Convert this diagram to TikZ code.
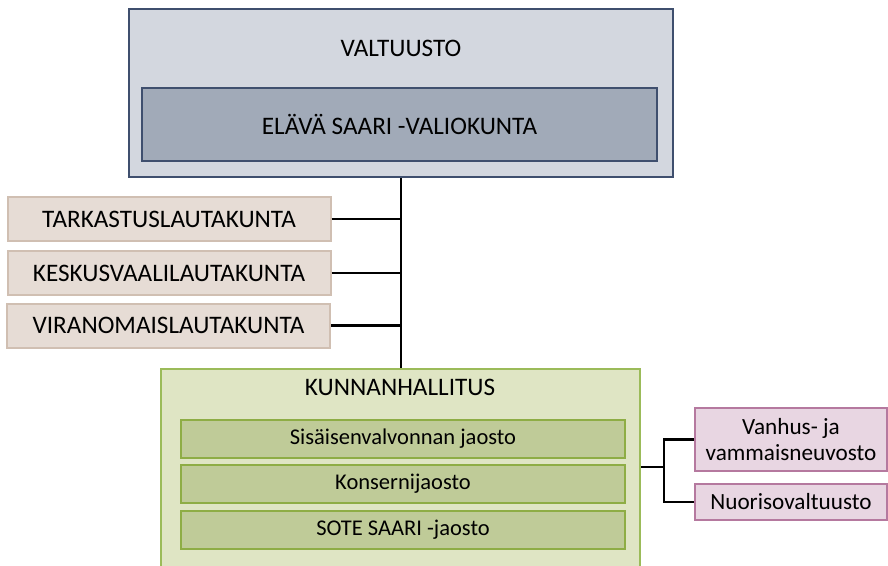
\documentclass[tikz,border=0pt]{standalone}
\usepackage{fontspec}
\setmainfont{Carlito}
\usetikzlibrary{positioning}

\definecolor{valtfill}{HTML}{D3D7DF}
\definecolor{valtdraw}{HTML}{3F4F6E}
\definecolor{valiofill}{HTML}{A1AAB8}
\definecolor{lautafill}{HTML}{E6DCD5}
\definecolor{lautadraw}{HTML}{D0BFB2}
\definecolor{khfill}{HTML}{DFE5C4}
\definecolor{khdraw}{HTML}{9BBB59}
\definecolor{jaostofill}{HTML}{BFCB98}
\definecolor{jaostodraw}{HTML}{8EAD45}
\definecolor{neuvfill}{HTML}{E8D6E2}
\definecolor{neuvdraw}{HTML}{B5799F}

\tikzset{
  box/.style={rectangle, line width=2pt, inner sep=0pt, align=center},
  lauta/.style={box, fill=lautafill, draw=lautadraw, minimum width=323pt, minimum height=44pt, font=\fontsize{25.2}{27}\selectfont},
  jaosto/.style={box, fill=jaostofill, draw=jaostodraw, minimum width=444pt, minimum height=38pt, font=\fontsize{22.5}{24}\selectfont},
  neuv/.style={box, fill=neuvfill, draw=neuvdraw, minimum width=192pt, font=\fontsize{23.2}{26}\selectfont},
  link/.style={line width=2.8pt, black}
}

\begin{document}
\begin{tikzpicture}[x=1pt,y=-1pt]
		\useasboundingbox (0,0) rectangle (888,565);
		
		% Valtuusto
		\node[box, fill=valtfill, draw=valtdraw, minimum width=544pt, minimum height=168pt] (valtuusto) at (401,93) {};
		\node[font=\fontsize{25.2}{27}\selectfont] (valtlabel) at (401,48) {VALTUUSTO};
		\node[box, fill=valiofill, draw=valtdraw, minimum width=515pt, minimum height=73pt, font=\fontsize{25.2}{27}\selectfont] (valio) at (399.5,124.5) {ELÄVÄ SAARI -VALIOKUNTA};
		
		% Lautakunnat
		\node[lauta] (tark) at (169,219) {TARKASTUSLAUTAKUNTA};
		\node[lauta] (kesk) at (169,273) {KESKUSVAALILAUTAKUNTA};
		\node[lauta] (viran) at (168.5,325.5) {VIRANOMAISLAUTAKUNTA};
		
		% Kunnanhallitus
		\node[box, fill=khfill, draw=khdraw, minimum width=479pt, minimum height=210pt] (khall) at (400.5,474) {};
		\node[font=\fontsize{25.2}{27}\selectfont] (khlabel) at (400,387) {KUNNANHALLITUS};
		\node[jaosto] (sisa) at (403,438.5) {Sisäisenvalvonnan jaosto};
		\node[jaosto] (konserni) at (403,483.5) {Konsernijaosto};
		\node[jaosto] (sote) at (403,530) {SOTE SAARI -jaosto};
		
		% Neuvostot
		\node[neuv, minimum height=63pt] (vanhus) at (791,439.5) {Vanhus- ja\\vammaisneuvosto};
		\node[neuv, minimum height=36pt] (nuoriso) at (791,502) {Nuorisovaltuusto};
		
		% Lines
		\draw[link] (valtuusto.south) -- (valtuusto.south |- khall.north);
		\draw[link] (tark.east) -- (tark.east -| valtuusto.south);
		\draw[link] (kesk.east) -- (kesk.east -| valtuusto.south);
		\draw[link] (viran.east) -- (viran.east -| valtuusto.south);
		\coordinate (branch) at (664,467);
		\draw[link] (khall.east |- branch) -- (branch);
		\draw[link] (vanhus.west) -| (branch) |- (nuoriso.west);
		\end{tikzpicture}
\end{document}
